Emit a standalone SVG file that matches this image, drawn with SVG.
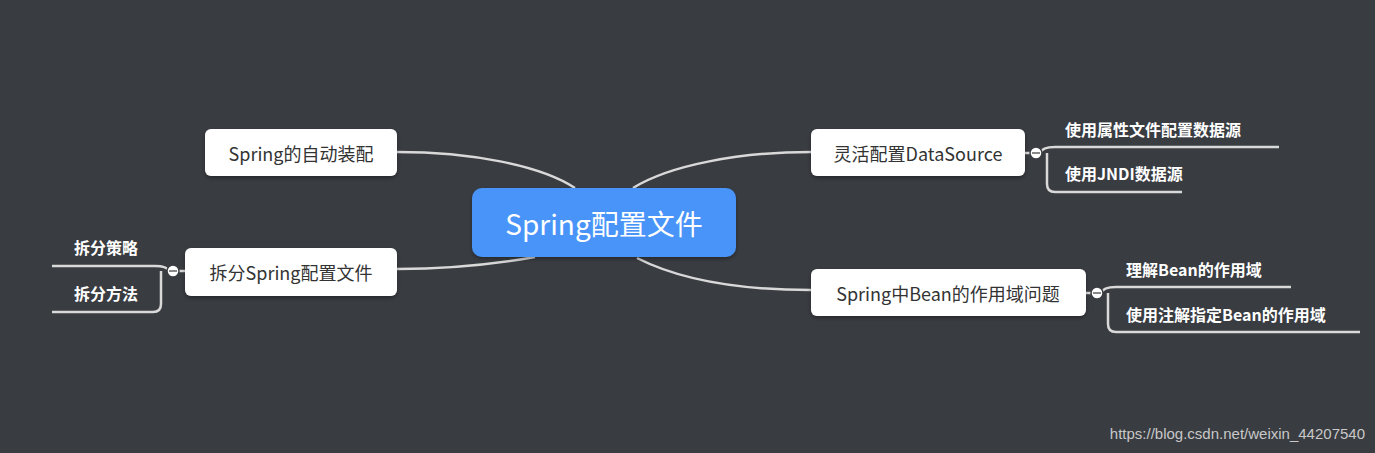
<svg xmlns="http://www.w3.org/2000/svg" width="1375" height="453" viewBox="0 0 1375 453">
<defs>
<filter id="sh" x="-10%" y="-20%" width="120%" height="150%"><feDropShadow dx="0" dy="2" stdDeviation="2" flood-color="#000" flood-opacity="0.35"/></filter>
</defs>
<style>
.n{fill:#fff;filter:url(#sh)}
.t{font-family:"Noto Sans CJK SC","Noto Sans",sans-serif;font-size:18px;fill:#333;text-anchor:middle;dominant-baseline:central}
.s{font-family:"Noto Sans CJK SC","Noto Sans",sans-serif;font-size:16px;font-weight:bold;fill:#fff}
.c{fill:none;stroke:#d9d9d9;stroke-width:2.5}
.k{fill:#fff;stroke:#3a3d42;stroke-width:1.5}
</style>
<rect width="1375" height="453" fill="#393c41"/>
<g id="connectors">
<path class="c" d="M575,188 C540,165 470,152 397,152"/>
<path class="c" d="M535,257 C490,265 450,269 397,269"/>
<path class="c" d="M633,188 C670,165 740,152 811,152"/>
<path class="c" d="M637,258 C680,280 740,290 811,290"/>
<path class="c" d="M1025,153 H1036 M1040,153 Q1042,147 1055,147 H1279 M1047,153 V184 Q1047,192 1055,192 H1182"/>
<path class="c" d="M1086,293 H1097 M1101,293 Q1103,287 1116,287 H1291 M1108,293 V324 Q1108,332 1116,332 H1360"/>
<path class="c" d="M185,271 H173 M169,271 Q167,266 155,266 H52 M161,271 V304 Q161,312 153,312 H52"/>
<circle class="k" cx="1036" cy="153" r="6"/><rect x="1032" y="152" width="8" height="2" fill="#888"/>
<circle class="k" cx="1097" cy="293" r="6"/><rect x="1093" y="292" width="8" height="2" fill="#888"/>
<circle class="k" cx="173" cy="271" r="6"/><rect x="169" y="270" width="8" height="2" fill="#888"/>
</g>
<g id="center"><rect x="472" y="188" width="264" height="69" rx="10" fill="#4a94f8" filter="url(#sh)"/><text x="604" y="223" class="t" style="font-size:28px;fill:#fff">Spring配置文件</text></g>
<g id="n1"><rect class="n" x="205" y="129" width="192" height="47" rx="6"/><text class="t" x="301" y="153">Spring的自动装配</text></g>
<g id="n2"><rect class="n" x="185" y="248" width="212" height="48" rx="6"/><text class="t" x="291" y="272">拆分Spring配置文件</text></g>
<g id="n3"><rect class="n" x="811" y="129" width="214" height="47" rx="6"/><text class="t" x="918" y="153">灵活配置DataSource</text></g>
<g id="n4"><rect class="n" x="811" y="269" width="275" height="47" rx="6"/><text class="t" x="948" y="293">Spring中Bean的作用域问题</text></g>
<g id="leaf1"><text class="s" x="1065" y="136">使用属性文件配置数据源</text></g>
<g id="leaf2"><text class="s" x="1065" y="180">使用JNDI数据源</text></g>
<g id="leaf3"><text class="s" x="1126" y="276">理解Bean的作用域</text></g>
<g id="leaf4"><text class="s" x="1126" y="321">使用注解指定Bean的作用域</text></g>
<g id="leaf5"><text class="s" x="74" y="254">拆分策略</text></g>
<g id="leaf6"><text class="s" x="74" y="300">拆分方法</text></g>
<text x="1365" y="439" text-anchor="end" font-family="Liberation Sans,sans-serif" font-size="15" fill="#c8c8c8">https://blog.csdn.net/weixin_44207540</text>
</svg>
